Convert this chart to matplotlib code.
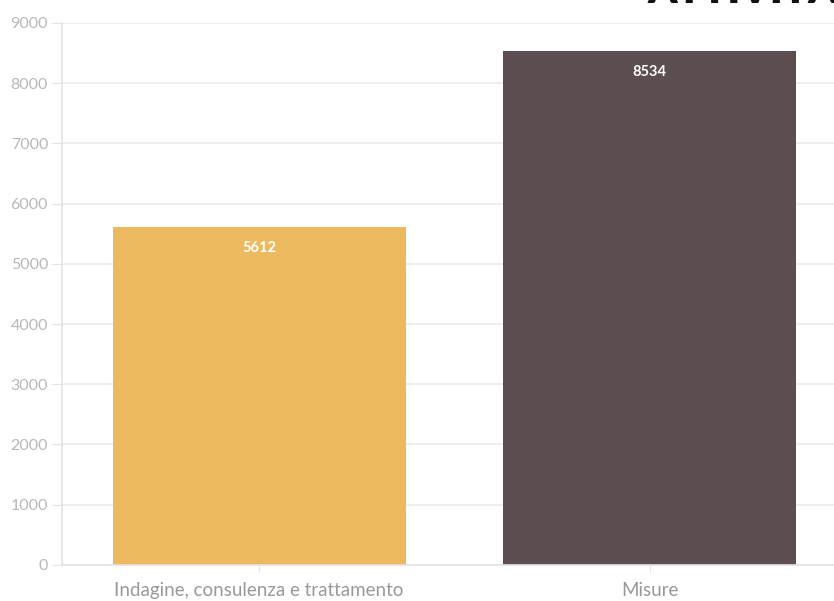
import matplotlib
matplotlib.use("Agg")
import matplotlib.pyplot as plt

categories = ["Indagine, consulenza e trattamento", "Misure"]
values = [5612, 8534]
bar_colors = ["#EDB95E", "#5C4D51"]
y_ticks = [0, 1000, 2000, 3000, 4000, 5000, 6000, 7000, 8000, 9000]

plt.rcParams["font.family"] = ["Lato", "DejaVu Sans"]

fig = plt.figure(figsize=(8.34, 6.01), dpi=100)
ax = fig.add_axes([0.0743, 0.060, 0.9257, 0.902])

x = range(len(categories))
bars = ax.bar(x, values, width=0.75, color=bar_colors, zorder=2)

for rect, v in zip(bars, values):
    ax.annotate(str(v), (rect.get_x() + rect.get_width() / 2, v),
                xytext=(0, -15), textcoords="offset points",
                ha="center", va="center", color="white",
                fontsize=10.5, fontweight="bold", zorder=3)

ax.set_xlim(-0.505, 1.472)
ax.set_ylim(0, 9000)
ax.set_yticks(y_ticks)
ax.set_xticks(list(x))
ax.set_xticklabels(categories)

ax.grid(axis="y", color="#ebebeb", linewidth=1.2, zorder=0)
for side in ["top", "right"]:
    ax.spines[side].set_visible(False)
for side in ["left", "bottom"]:
    ax.spines[side].set_color("#e3e3e3")
    ax.spines[side].set_linewidth(1.2)

ax.tick_params(axis="y", colors="#e3e3e3", labelcolor="#b8b8b8",
               labelsize=11.5, length=7, pad=3)
ax.tick_params(axis="x", colors="#e3e3e3", labelcolor="#999999",
               labelsize=13.5, length=5, pad=7)

# heading sits mostly above the canvas, only its lower edge shows
fig.text(1.005, 1 - 3 / 601, "ATTIVITÀ", ha="right", va="baseline",
         fontsize=30, fontweight="heavy", color="#111111")

fig.savefig("out.png", dpi=100)
